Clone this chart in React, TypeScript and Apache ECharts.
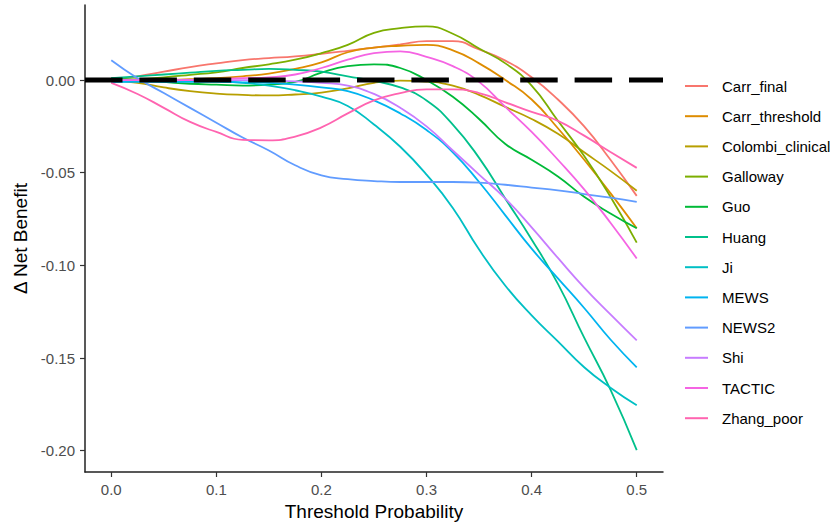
import React, { useEffect, useRef } from "react";
import * as echarts from "echarts";

const xs = [0, 0.025, 0.05, 0.075, 0.1, 0.125, 0.15, 0.175, 0.2, 0.225, 0.25, 0.275, 0.3, 0.325, 0.35, 0.375, 0.4, 0.425, 0.45, 0.475, 0.5];

const names = ["Carr_final", "Carr_threshold", "Colombi_clinical", "Galloway", "Guo", "Huang", "Ji", "MEWS", "NEWS2", "Shi", "TACTIC", "Zhang_poor"];
const colors = ["#F8766D", "#DE8C00", "#B79F00", "#7CAE00", "#00BA38", "#00C08B", "#00BFC4", "#00B4F0", "#619CFF", "#C77CFF", "#F564E3", "#FF64B0"];

const carrFinal = [0, 0.002, 0.0045, 0.007, 0.009, 0.0108, 0.0118, 0.0128, 0.0142, 0.0158, 0.0175, 0.0192, 0.021, 0.021, 0.0165, 0.0105, 0.0015, -0.0105, -0.025, -0.043, -0.0625];
const carrThreshold = [0, 0, 0, 0.0005, 0.001, 0.002, 0.0035, 0.006, 0.0095, 0.015, 0.0175, 0.0185, 0.019, 0.016, 0.009, 0, -0.0105, -0.026, -0.043, -0.061, -0.08];
const colombiClinical = [0, -0.0015, -0.004, -0.006, -0.0073, -0.008, -0.0083, -0.0078, -0.0068, -0.0045, -0.0015, -0.0003, -0.0008, -0.003, -0.008, -0.0145, -0.021, -0.029, -0.039, -0.049, -0.0597];
const galloway = [0, 0.0005, 0.0015, 0.0028, 0.0042, 0.0065, 0.0085, 0.011, 0.0145, 0.019, 0.0255, 0.028, 0.029, 0.025, 0.017, 0.009, -0.003, -0.022, -0.041, -0.063, -0.0877];
const guo = [0.001, 0, -0.001, -0.002, -0.0025, -0.003, -0.0025, -0.001, 0.004, 0.0075, 0.0085, 0.0065, 0, -0.009, -0.021, -0.0345, -0.043, -0.052, -0.063, -0.072, -0.08];
const huang = [0.001, 0.002, 0.003, 0.004, 0.005, 0.0055, 0.006, 0.0055, 0.0045, 0.002, -0.0005, -0.004, -0.011, -0.024, -0.042, -0.064, -0.086, -0.11, -0.139, -0.167, -0.1997];
const ji = [-0.001, -0.0005, 0, 0, -0.0005, -0.0015, -0.003, -0.0055, -0.009, -0.014, -0.024, -0.036, -0.051, -0.069, -0.0915, -0.111, -0.127, -0.141, -0.155, -0.166, -0.1755];
const mews = [-0.001, -0.001, -0.001, -0.001, -0.001, -0.0012, -0.0015, -0.0025, -0.004, -0.006, -0.011, -0.018, -0.027, -0.039, -0.055, -0.073, -0.091, -0.107, -0.123, -0.14, -0.155];
const news2 = [0.0107, 0.001, -0.007, -0.015, -0.023, -0.031, -0.038, -0.046, -0.0515, -0.0535, -0.0545, -0.055, -0.055, -0.055, -0.0553, -0.0565, -0.058, -0.0595, -0.0615, -0.0635, -0.0657];
const shi = [0, 0, 0, 0, 0, 0, -0.0003, -0.0007, -0.0015, -0.003, -0.0075, -0.015, -0.025, -0.038, -0.051, -0.064, -0.0795, -0.096, -0.112, -0.1265, -0.1405];
const tactic = [0, 0, 0, 0, 0.0005, 0.001, 0.0015, 0.003, 0.0065, 0.011, 0.0145, 0.0155, 0.0125, 0.0075, -0.001, -0.0145, -0.028, -0.043, -0.059, -0.077, -0.0963];
const zhangPoor = [-0.0015, -0.0075, -0.015, -0.0226, -0.028, -0.0323, -0.0325, -0.0305, -0.0255, -0.018, -0.011, -0.007, -0.005, -0.005, -0.007, -0.012, -0.0172, -0.022, -0.03, -0.0388, -0.0474];

const seriesValues = [carrFinal, carrThreshold, colombiClinical, galloway, guo, huang, ji, mews, news2, shi, tactic, zhangPoor];

const xTicks = [0, 0.1, 0.2, 0.3, 0.4, 0.5];
const yTicks = [-0.2, -0.15, -0.1, -0.05, 0];
const refLine = [[-0.025, 0], [0.525, 0]];

const FONT = "'Liberation Sans', Arial, sans-serif";

export default function App() {
  const ref = useRef<HTMLDivElement>(null);
  useEffect(() => {
    if (!ref.current) return;
    const chart = echarts.init(ref.current, null, { renderer: "svg" });
    const series: any[] = names.map((n, i) => ({
      name: n,
      type: "line",
      data: xs.map((x, j) => [x, seriesValues[i][j]]),
      smooth: 0.5,
      symbol: "none",
      lineStyle: { color: colors[i], width: 1.8 },
      itemStyle: { color: colors[i] },
      z: 2,
    }));
    series.push({
      name: "ref",
      type: "line",
      data: refLine,
      symbol: "none",
      lineStyle: { color: "#000", width: 5, type: [37.5, 16.9], cap: "butt" },
      z: 5,
      silent: true,
    });
    chart.setOption({
      animation: false,
      backgroundColor: "#fff",
      grid: { left: 85, top: 5, width: 578, height: 467, outerBoundsMode: "none" },
      xAxis: {
        type: "value",
        min: -0.025,
        max: 0.525,
        name: "Threshold Probability",
        nameLocation: "middle",
        nameGap: 25,
        nameTextStyle: { fontSize: 19, color: "#000", fontFamily: FONT },
        splitLine: { show: false },
        axisLine: { show: true, onZero: false, lineStyle: { color: "#222", width: 1.5 } },
        axisTick: { show: true, length: 5, customValues: xTicks, lineStyle: { color: "#333", width: 1.2 } },
        axisLabel: {
          customValues: xTicks,
          margin: 10,
          fontSize: 15,
          color: "#4D4D4D",
          fontFamily: FONT,
          formatter: (v: number) => v.toFixed(1),
        },
      },
      yAxis: {
        type: "value",
        min: -0.2115,
        max: 0.0405,
        name: "Δ Net Benefit",
        nameLocation: "middle",
        nameRotate: 90,
        nameGap: 41,
        nameTextStyle: { fontSize: 19, color: "#000", fontFamily: FONT },
        splitLine: { show: false },
        axisLine: { show: true, onZero: false, lineStyle: { color: "#222", width: 1.5 } },
        axisTick: { show: true, length: 5, customValues: yTicks, lineStyle: { color: "#333", width: 1.2 } },
        axisLabel: {
          customValues: yTicks,
          margin: 10,
          fontSize: 15,
          color: "#4D4D4D",
          fontFamily: FONT,
          formatter: (v: number) => v.toFixed(2),
        },
      },
      legend: {
        data: names,
        orient: "vertical",
        left: 685,
        top: 78.5,
        padding: 0,
        icon: "rect",
        itemWidth: 23,
        itemHeight: 2,
        itemGap: 15.2,
        textStyle: { fontSize: 15, color: "#000", fontFamily: FONT, padding: [0, 0, 0, 9] },
      },
      series,
    });
    return () => chart.dispose();
  }, []);
  return <div ref={ref} style={{ position: "fixed", left: 0, top: 0, width: 840, height: 523 }} />;
}
